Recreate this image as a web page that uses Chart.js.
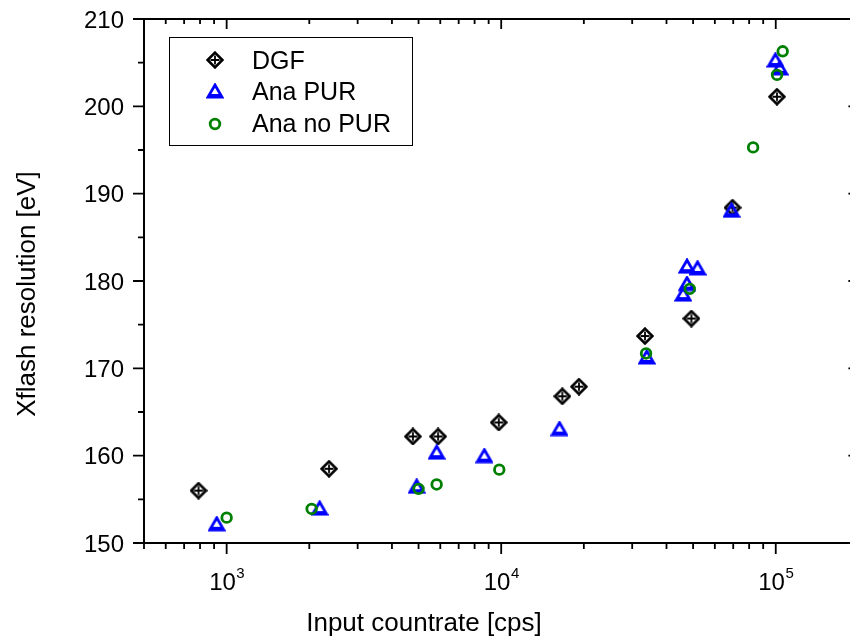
<!DOCTYPE html>
<html>
<head>
<meta charset="utf-8">
<script src="https://cdn.jsdelivr.net/npm/chart.js@4.4.1/dist/chart.umd.min.js"></script>
<style>
html,body{margin:0;padding:0;overflow:hidden;background:#fff}
</style>
</head>
<body>
<canvas id="c" width="866" height="639"></canvas>
<script>
// values
const dgfRate=[790,2360,4770,5890,9800,16700,19200,33400,49300,69600,101000];
const dgfRes=[156.0,158.5,162.2,162.2,163.8,166.8,167.9,173.7,175.7,188.4,201.1];

const purRate=[920,2180,4920,5820,8680,16300,33900,46000,47500,47500,51900,69000,99700,103400];
const purRes=[152.2,154.0,156.5,160.4,160.0,163.1,171.3,178.5,179.7,181.7,181.5,188.1,205.3,204.4];

const nopurRate=[1000,2040,5000,5820,9840,33700,48600,82700,101100,106000];
const nopurRes=[152.9,153.9,156.2,156.7,158.4,171.7,179.1,195.3,203.6,206.3];

const seriesNames=["DGF","Ana PUR","Ana no PUR"];
const xMajor=[1e3,1e4,1e5];
const xMajorExp=["3","4","5"];
const yTicks=[150,160,170,180,190,200,210];
const yMinor=[155,165,175,185,195,205];
const xMin=500, xMax=200000, yMin=150, yMax=210;

const FONT='"Liberation Sans", Arial, sans-serif';

function pts(xs,ys){
let out=[];
for(let i=0;i<xs.length;i++) out.push({x:xs[i],y:ys[i]});
return out;
}

// marker images
function diamondImg(){
let c=document.createElement("canvas");
c.width=18;c.height=18;
let g=c.getContext("2d");
g.strokeStyle="#000";
g.lineWidth=2.6;
g.beginPath();
g.moveTo(9,1.6);g.lineTo(16.4,9);g.lineTo(9,16.4);g.lineTo(1.6,9);g.closePath();
g.stroke();
g.lineWidth=1.8;
g.beginPath();
g.moveTo(9,4.5);g.lineTo(9,13.5);
g.moveTo(4.5,9);g.lineTo(13.5,9);
g.stroke();
return c;
}

function triImg(){
let c=document.createElement("canvas");
c.width=18;c.height=16;
let g=c.getContext("2d");
g.strokeStyle="#0000ff";
g.fillStyle="#0000ff";
g.lineWidth=2.8;
g.lineJoin="miter";
g.beginPath();
g.moveTo(9,2);g.lineTo(16,14);g.lineTo(2,14);g.closePath();
g.stroke();
g.fillRect(3,11,12,3.5);
return c;
}

const dgfMark=diamondImg();
const purMark=triImg();

// frame, ticks, labels and legend, placed with the chart's scales
const axes={
id:"axes",
afterDraw(chart){
let ctx=chart.ctx;
let a=chart.chartArea;
let xs=chart.scales.x, ys=chart.scales.y;
ctx.save();
ctx.strokeStyle="#000";
ctx.lineWidth=2;
ctx.beginPath();
ctx.moveTo(a.left,a.top);ctx.lineTo(a.right,a.top);
ctx.moveTo(a.left,a.top-1);ctx.lineTo(a.left,a.bottom+1);
ctx.moveTo(a.left,a.bottom);ctx.lineTo(a.right,a.bottom);
ctx.moveTo(a.right,a.top-1);ctx.lineTo(a.right,a.bottom+1);
ctx.stroke();

ctx.lineWidth=1.8;
ctx.beginPath();
// x minor ticks
for(let d=100;d<=100000;d*=10){
for(let k=2;k<=9;k++){
let v=k*d;
if(v<xMin||v>xMax) continue;
let p=xs.getPixelForValue(v);
ctx.moveTo(p,a.bottom);ctx.lineTo(p,a.bottom+6);
ctx.moveTo(p,a.top);ctx.lineTo(p,a.top+5);
}
}
xMajor.forEach(v=>{
let p=xs.getPixelForValue(v);
ctx.moveTo(p,a.bottom);ctx.lineTo(p,a.bottom+11);
ctx.moveTo(p,a.top);ctx.lineTo(p,a.top+10);
});
yTicks.forEach(v=>{
let p=ys.getPixelForValue(v);
ctx.moveTo(a.left,p);ctx.lineTo(a.left-11,p);
ctx.moveTo(a.right,p);ctx.lineTo(a.right-10,p);
});
yMinor.forEach(v=>{
let p=ys.getPixelForValue(v);
ctx.moveTo(a.left,p);ctx.lineTo(a.left-6,p);
ctx.moveTo(a.right,p);ctx.lineTo(a.right-5,p);
});
ctx.stroke();

// tick labels
ctx.fillStyle="#000";
ctx.font="24px "+FONT;
ctx.textAlign="right";
ctx.textBaseline="alphabetic";
yTicks.forEach(v=>{
let p=ys.getPixelForValue(v);
ctx.fillText(String(v),124,p+8.6);
});
xMajor.forEach((v,i)=>{
let p=xs.getPixelForValue(v);
ctx.font="24px "+FONT;
let w1=ctx.measureText("10").width;
ctx.font="15px "+FONT;
let w2=ctx.measureText(xMajorExp[i]).width;
let x0=p-(w1+w2)/2;
ctx.textAlign="left";
ctx.font="24px "+FONT;
ctx.fillText("10",x0,590);
ctx.font="15px "+FONT;
ctx.fillText(xMajorExp[i],x0+w1+0.5,578);
});

// axis titles
ctx.font="26px "+FONT;
ctx.textAlign="center";
ctx.fillText("Input countrate [cps]",424,631);
ctx.save();
ctx.translate(35,294);
ctx.rotate(-Math.PI/2);
ctx.fillText("Xflash resolution [eV]",0,0);
ctx.restore();

// legend
ctx.lineWidth=1;
ctx.strokeRect(169.5,37.5,243,108);
ctx.drawImage(dgfMark,215-9,60-9);
ctx.drawImage(purMark,215-9,91-8);
ctx.strokeStyle="#008000";
ctx.lineWidth=2.8;
ctx.beginPath();
ctx.arc(215,124,4.8,0,Math.PI*2);
ctx.stroke();
ctx.font="25px "+FONT;
ctx.textAlign="left";
ctx.fillText(seriesNames[0],252,68.5);
ctx.fillText(seriesNames[1],252,100);
ctx.fillText(seriesNames[2],252,131.7);
ctx.restore();
}
};

new Chart(document.getElementById("c"),{
type:"scatter",
data:{
datasets:[
{label:seriesNames[0],data:pts(dgfRate,dgfRes),pointStyle:dgfMark,order:3},
{label:seriesNames[1],data:pts(purRate,purRes),pointStyle:purMark,order:2},
{label:seriesNames[2],data:pts(nopurRate,nopurRes),pointStyle:"circle",pointRadius:4.8,
borderColor:"#008000",backgroundColor:"rgba(0,0,0,0)",borderWidth:2.8,order:1}
]
},
options:{
responsive:false,
animation:false,
devicePixelRatio:1,
layout:{padding:{left:144,top:19,right:3,bottom:96}},
plugins:{legend:{display:false},tooltip:{enabled:false}},
scales:{
x:{type:"logarithmic",min:xMin,max:xMax,display:false},
y:{type:"linear",min:yMin,max:yMax,display:false}
}
},
plugins:[axes]
});
</script>
</body>
</html>
